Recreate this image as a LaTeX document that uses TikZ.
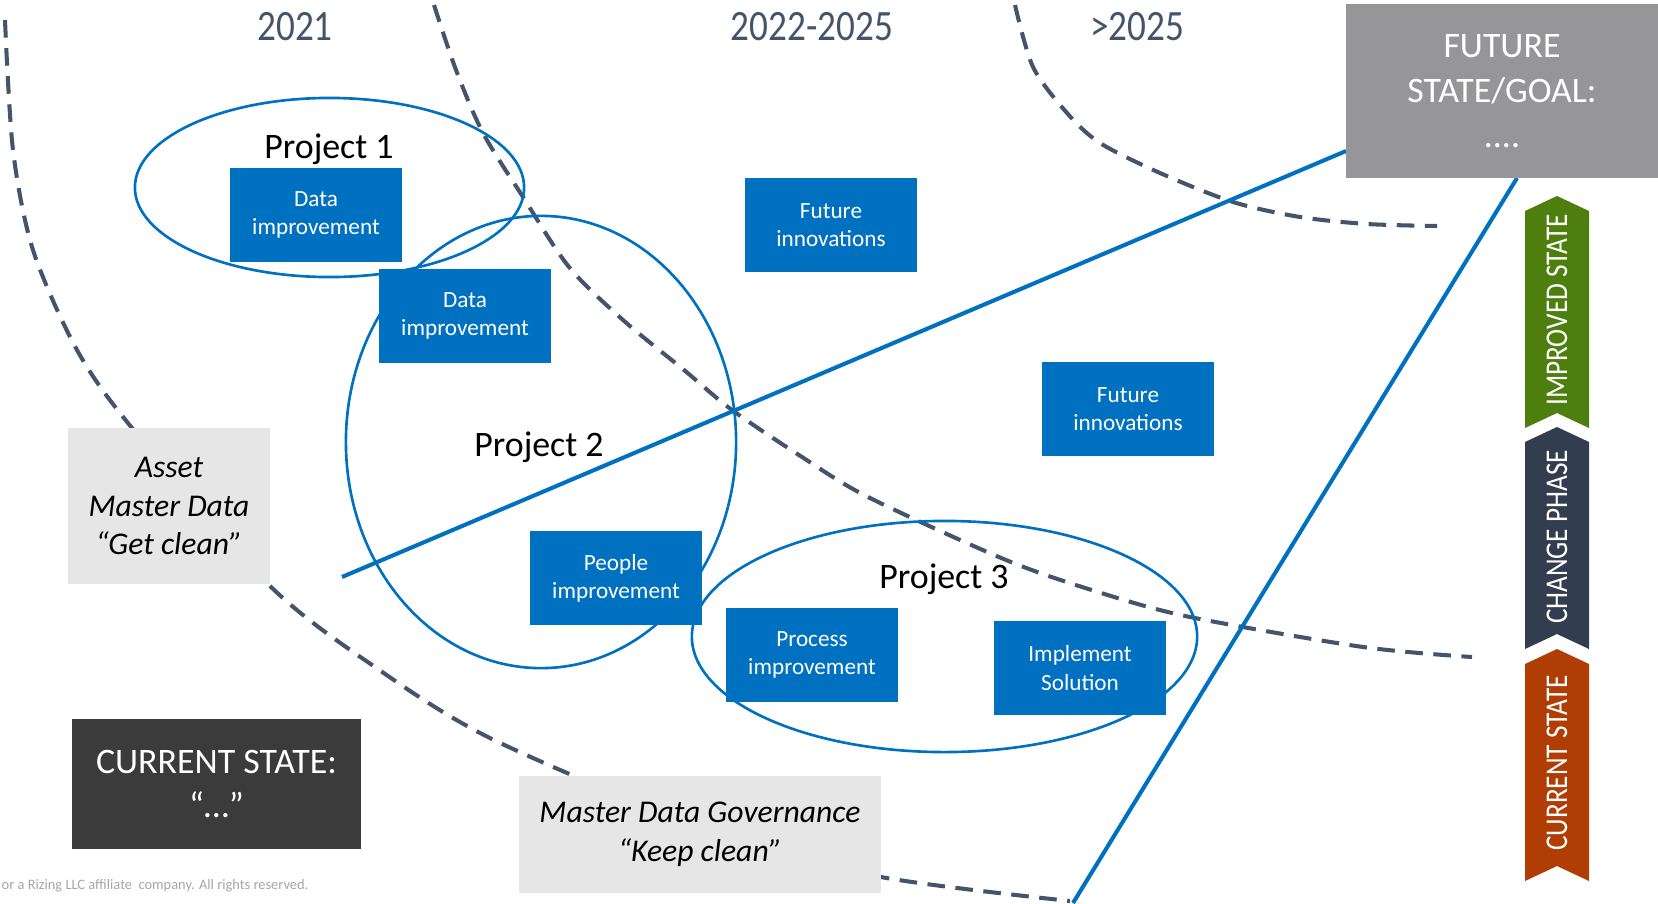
\documentclass[tikz,border=0pt]{standalone}
\usepackage{fontspec}
\setmainfont{Carlito}
\newfontfamily\narrowfont[FakeStretch=0.86]{Carlito}
\usepackage{tikz}
\usetikzlibrary{shapes.geometric}

\definecolor{projblue}{RGB}{0,112,192}
\definecolor{slate}{RGB}{68,84,106}
\definecolor{notegray}{RGB}{230,230,230}
\definecolor{goalgray}{RGB}{150,150,152}
\definecolor{nowdark}{RGB}{59,59,59}
\definecolor{chevgreen}{RGB}{78,127,14}
\definecolor{chevslate}{RGB}{50,62,79}
\definecolor{chevrust}{RGB}{176,62,4}
\definecolor{footgray}{RGB}{166,166,166}

\tikzset{
  taskbox/.style={fill=projblue, text=white, align=center, inner sep=0pt,
    minimum width=1.72cm, minimum height=0.93cm,
    font=\fontsize{6.6}{8}\selectfont},
  notebox/.style={fill=notegray, align=center, inner sep=0pt,
    font=\fontsize{9}{11}\selectfont\itshape},
  statebox/.style={text=white, align=center, inner sep=0pt,
    font=\fontsize{10.2}{12.7}\selectfont},
  ring/.style={draw=projblue, line width=0.75pt, ellipse, inner sep=0pt},
  projlabel/.style={anchor=base, font=\fontsize{10.2}{12}\selectfont},
  yearlabel/.style={anchor=base, text=slate,
    font=\narrowfont\fontsize{12.3}{14}\selectfont},
  phaseline/.style={draw=slate, line width=1.15pt,
    dash pattern=on 5pt off 3pt},
  roadline/.style={draw=projblue, line width=1.15pt},
  chevtext/.style={text=white, rotate=90,
    font=\narrowfont\fontsize{9}{10}\selectfont}
}

\begin{document}
\begin{tikzpicture}[x=0.01cm, y=-0.01cm]
  \fill[white] (0,0) rectangle (1658,903);
  \useasboundingbox (0,0) rectangle (1658,903);

  % phase borders
  \draw[phaseline] plot[smooth] coordinates {(5,20) (13,150) (33,250) (77,350)
    (132,428) (269,585) (375,667) (494,740) (720,835) (881,877) (1070,901)};
  \draw[phaseline] plot[smooth] coordinates {(434,5) (456,70) (483,133) (523,197)
    (569,267) (623,320) (684,370) (732,410) (802,457) (868,497) (1006,560)
    (1098,592) (1190,617) (1363,647) (1472,657)};
  \draw[phaseline] plot[smooth] coordinates {(1015,5) (1033,67) (1067,113)
    (1100,143) (1160,173) (1233,202) (1300,217) (1367,224) (1437,226)};

  % project rings
  \node[ring, minimum width=3.89cm, minimum height=1.79cm] (ring1) at (329.5,187.5) {};
  \node[ring, minimum width=3.90cm, minimum height=4.52cm] (ring2) at (541,442) {};
  \node[ring, minimum width=5.05cm, minimum height=2.31cm] (ring3) at (944.5,636.5) {};

  % road to the goal
  \coordinate (roadstart) at (342,577);
  \coordinate (roadjoin) at (1346,151);
  \coordinate (goalfoot) at (1517,178);
  \coordinate (roadend) at (1073,903);
  \draw[roadline] (roadstart) -- (roadjoin);
  \draw[roadline] (goalfoot) -- (roadend);

  \node[taskbox] (data1) at (316,215) {Data\\improvement};
  \node[taskbox] (data2) at (465,316) {Data\\improvement};
  \node[taskbox] (innov1) at (831,225) {Future\\innovations};
  \node[taskbox] (innov2) at (1128,409) {Future\\innovations};
  \node[taskbox] (people) at (616,578) {People\\improvement};
  \node[taskbox] (process) at (812,655) {Process\\improvement};
  \node[taskbox] (implement) at (1080,668) {Implement\\Solution};

  \node[notebox, minimum width=2.02cm, minimum height=1.56cm] (asset) at (169,506)
    {Asset\\Master Data\\“Get clean”};
  \node[notebox, minimum width=3.62cm, minimum height=1.17cm] (govern) at (700,834.5)
    {Master Data Governance\\“Keep clean”};

  \node[statebox, fill=nowdark, minimum width=2.89cm, minimum height=1.30cm] (now)
    at (216.5,784) {CURRENT STATE:\\“…”};
  \node[statebox, fill=goalgray, minimum width=3.12cm, minimum height=1.74cm] (goal)
    at (1502,91) {FUTURE\\STATE/GOAL:\\....};

  \node[projlabel] (proj1) at (329,158) {Project 1};
  \node[projlabel] (proj2) at (539,456) {Project 2};
  \node[projlabel] (proj3) at (944,588) {Project 3};

  \node[yearlabel] (y21) at (295,41) {2021};
  \node[yearlabel] (y22) at (812,41) {2022-2025};
  \node[yearlabel] (y25) at (1137,41) {>2025};

  % state chevrons
  \fill[chevgreen] (1525,211) -- (1557,196) -- (1589,211) -- (1589,428)
    -- (1557,413) -- (1525,428) -- cycle;
  \fill[chevslate] (1525,442) -- (1557,427) -- (1589,442) -- (1589,649)
    -- (1557,634) -- (1525,649) -- cycle;
  \fill[chevrust] (1525,664) -- (1557,649) -- (1589,664) -- (1589,881)
    -- (1557,866) -- (1525,881) -- cycle;
  \node[chevtext] (improved) at (1557,310) {IMPROVED STATE};
  \node[chevtext] (change) at (1557,537) {CHANGE PHASE};
  \node[chevtext] (current) at (1557,763) {CURRENT STATE};

  \node[anchor=base west, text=footgray, inner sep=0pt,
    font=\fontsize{4.1}{5}\selectfont] (foot) at (1,889)
    {or a Rizing LLC affiliate\ \ company. All rights reserved.};
\end{tikzpicture}
\end{document}
